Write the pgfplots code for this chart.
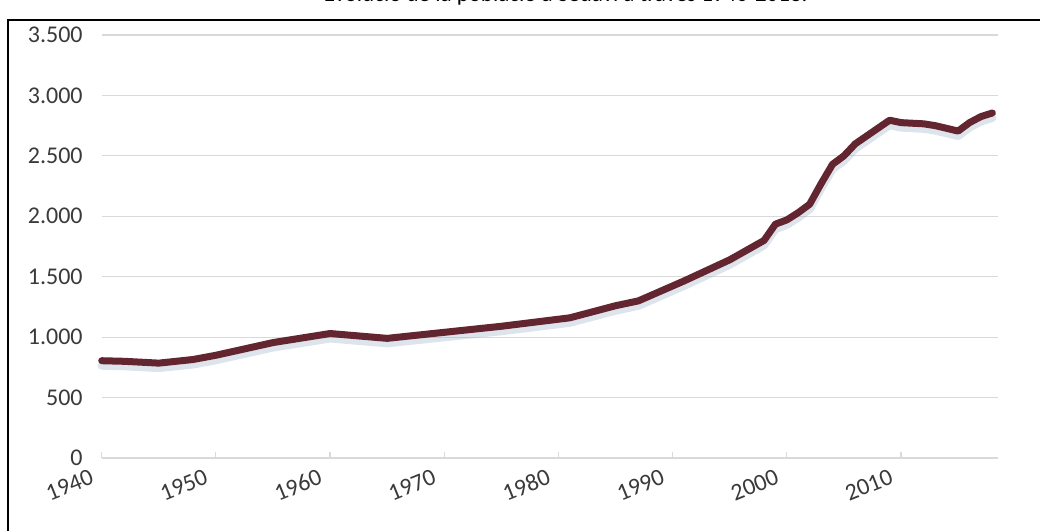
\documentclass[border=0pt]{standalone}
\usepackage{pgfplots}
\usepackage{pgfplotstable}
\pgfplotsset{compat=1.18}
\usepackage{fontspec}
\setmainfont{Carlito}
\definecolor{linec}{HTML}{632630}
\definecolor{gridc}{HTML}{D9D9D9}
\definecolor{txt}{HTML}{3A3A3A}
\definecolor{shadowc}{HTML}{8FA6C0}

\pgfplotstableread{
year value
1940 805
1942 800
1945 785
1948 815
1950 850
1955 955
1960 1030
1965 990
1970 1040
1975 1090
1981 1160
1985 1260
1987 1300
1991 1465
1995 1640
1998 1800
1999 1935
2000 1970
2001 2030
2002 2100
2003 2270
2004 2430
2005 2500
2006 2600
2007 2665
2008 2730
2009 2795
2010 2775
2012 2765
2013 2750
2015 2705
2016 2775
2017 2825
2018 2855
}\popdata

\begin{document}
\begin{tikzpicture}
\useasboundingbox (0,0) rectangle (520pt,265.5pt);
\node[anchor=base east, font=\fontsize{11.5}{13}\selectfont, text=black, inner sep=0]
  at (404pt,264.6pt) {Evolució de la població a Sedaví a través 1940-2018.};
\draw[line width=1pt] (4pt,0) -- (4pt,255.5pt) -- (521pt,255.5pt);
\begin{axis}[
  at={(50.85pt,36.5pt)}, anchor=south west,
  scale only axis, width=448.2pt, height=211.5pt,
  xmin=1940, xmax=2018.5, ymin=0, ymax=3500,
  axis x line*=bottom, axis y line*=left,
  y axis line style={draw=none},
  x axis line style={gridc, line width=0.6pt},
  ytick={0,500,...,3500},
  ymajorgrids, grid style={gridc, line width=0.6pt},
  ytick style={draw=none},
  xtick={1940,1950,...,2010},
  xticklabels={1940,1950,1960,1970,1980,1990,2000,2010},
  xtick style={gridc, line width=0.6pt},
  tick align=inside, major tick length=3pt,
  /pgf/number format/.cd, 1000 sep={.}, assume math mode=true,
  /pgfplots/.cd,
  yticklabel style={font=\fontsize{12}{14}\selectfont, text=txt},
  yticklabel shift=6pt,
  xticklabel style={font=\fontsize{12}{14}\selectfont, text=txt, inner sep=1pt, anchor=east, rotate=22, xshift=-4pt},
  xticklabel shift=7pt,
  clip=false,
]
\addplot[shadowc, line width=4pt, opacity=0.3, line join=round, line cap=round,
  transform canvas={yshift=-2.5pt}] table[x=year, y=value] {\popdata};
\addplot[linec, line width=3.5pt, line join=round, line cap=round] table[x=year, y=value] {\popdata};
\end{axis}
\end{tikzpicture}
\end{document}
